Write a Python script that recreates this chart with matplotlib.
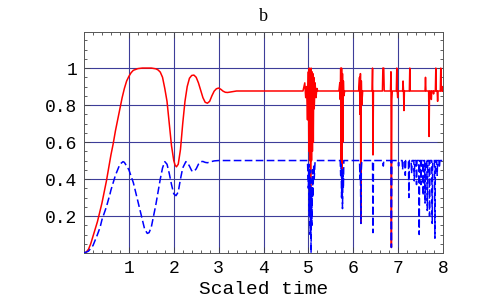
import matplotlib
matplotlib.use("Agg")
import matplotlib.pyplot as plt
from matplotlib.ticker import MultipleLocator, FixedLocator

# red (solid) curve: smooth start then flat with bursts
red_t = [0, 0.05, 0.1, 0.15, 0.2, 0.25, 0.3, 0.35, 0.4, 0.45, 0.5, 0.55, 0.6, 0.65,
         0.7, 0.75, 0.8, 0.85, 0.9, 0.95, 1.0, 1.05, 1.1, 1.2, 1.3, 1.4, 1.5, 1.6,
         1.65, 1.7, 1.75, 1.8, 1.85, 1.9, 1.95, 2.0, 2.03, 2.06, 2.1, 2.15, 2.2,
         2.25, 2.3, 2.35, 2.4, 2.45, 2.5, 2.55, 2.6, 2.65, 2.7, 2.75, 2.8, 2.85,
         2.9, 2.95, 3.0, 3.05, 3.1, 3.15, 3.2, 3.3, 3.4,
         4.88, 4.92, 4.94, 4.96, 4.98, 5.0, 5.01, 5.02, 5.03, 5.04, 5.05, 5.06,
         5.07, 5.08, 5.09, 5.1, 5.11, 5.12, 5.13, 5.15, 5.17, 5.19, 5.21,
         5.68, 5.7, 5.71, 5.72, 5.73, 5.74, 5.75, 5.76, 5.77, 5.78, 5.79, 5.81,
         6.12, 6.14, 6.15, 6.16, 6.17, 6.18, 6.19, 6.21,
         6.42, 6.43, 6.44, 6.45,
         6.65, 6.66, 6.68, 6.69,
         6.83, 6.84, 6.85, 6.86, 6.87,
         6.96, 6.97, 6.98, 6.99, 7.0,
         7.1, 7.11, 7.12, 7.13, 7.14,
         7.25, 7.26, 7.27,
         7.6, 7.61, 7.62, 7.68, 7.69, 7.7, 7.73, 7.74, 7.75, 7.78, 7.79, 7.8,
         7.83, 7.84, 7.85, 7.87, 7.88, 7.89, 7.94, 7.95, 7.96, 7.98, 7.99, 8.0]
red_v = [0, 0.005, 0.02, 0.05, 0.09, 0.13, 0.17, 0.22, 0.27, 0.33, 0.39, 0.46, 0.53, 0.59,
         0.66, 0.72, 0.78, 0.84, 0.89, 0.93, 0.955, 0.975, 0.988, 0.997, 1.0, 1.0, 1.0, 0.996,
         0.99, 0.978, 0.95, 0.89, 0.82, 0.70, 0.58, 0.50, 0.475, 0.466, 0.48, 0.56, 0.70,
         0.82, 0.90, 0.945, 0.96, 0.962, 0.95, 0.92, 0.88, 0.84, 0.815, 0.81, 0.82, 0.85,
         0.875, 0.888, 0.892, 0.885, 0.875, 0.869, 0.868, 0.872, 0.876,
         0.876, 0.92, 0.84, 0.90, 0.72, 0.98, 0.55, 1.0, 0.5, 0.99, 0.3, 1.0,
         0.5, 0.98, 0.55, 0.97, 0.6, 0.95, 0.78, 0.92, 0.84, 0.89, 0.876,
         0.876, 0.92, 0.83, 1.0, 0.5, 1.0, 0.38, 0.97, 0.6, 0.93, 0.85, 0.876,
         0.876, 0.95, 0.75, 0.97, 0.16, 0.93, 0.8, 0.876,
         0.876, 1.0, 0.53, 0.876,
         0.876, 1.0, 1.0, 0.876,
         0.876, 0.98, 0.03, 0.83, 0.876,
         0.876, 1.0, 0.876, 0.84, 0.876,
         0.876, 0.93, 0.876, 0.77, 0.876,
         0.876, 1.0, 0.876,
         0.876, 0.95, 0.876, 0.876, 0.63, 0.876, 0.876, 0.83, 0.876, 0.876, 0.86, 0.876,
         0.876, 1.0, 0.876, 0.876, 0.82, 0.876, 0.876, 1.0, 0.876, 0.876, 0.9, 0.876]

# blue (dashed) curve
blue_t = [0, 0.1, 0.2, 0.3, 0.36, 0.4, 0.5, 0.58, 0.6, 0.7, 0.8, 0.87, 0.9, 1.0, 1.1,
          1.2, 1.3, 1.35, 1.41, 1.45, 1.5, 1.6, 1.7, 1.75, 1.8, 1.85, 1.9, 1.95, 2.0,
          2.05, 2.1, 2.15, 2.2, 2.27, 2.3, 2.35, 2.4, 2.45, 2.5, 2.55, 2.6, 2.65, 2.7,
          2.75, 2.8, 2.9, 3.0,
          4.98, 5.0, 5.01, 5.02, 5.03, 5.04, 5.05, 5.06, 5.07, 5.08, 5.09, 5.1, 5.12, 5.13, 5.15,
          5.71, 5.72, 5.73, 5.74, 5.75, 5.76, 5.77, 5.78, 5.79,
          6.14, 6.15, 6.16, 6.17, 6.18, 6.19,
          6.43, 6.44, 6.45,
          6.66, 6.67, 6.68,
          6.84, 6.85, 6.86,
          7.0, 7.01, 7.02, 7.09, 7.1, 7.11, 7.15, 7.16, 7.17, 7.23, 7.24, 7.25,
          7.29, 7.3, 7.31, 7.35, 7.36, 7.37, 7.4, 7.41, 7.42, 7.46, 7.47, 7.48,
          7.5, 7.51, 7.52, 7.55, 7.56, 7.57, 7.59, 7.6, 7.61, 7.64, 7.65, 7.66,
          7.69, 7.7, 7.71, 7.75, 7.76, 7.77, 7.81, 7.82, 7.83, 7.86, 7.87, 7.88,
          7.91, 7.92, 7.93, 8.0]
blue_v = [0, 0.01, 0.04, 0.10, 0.14, 0.18, 0.25, 0.32, 0.34, 0.42, 0.48, 0.494, 0.49, 0.45, 0.38,
          0.28, 0.18, 0.13, 0.106, 0.11, 0.14, 0.26, 0.40, 0.46, 0.494, 0.48, 0.43, 0.37, 0.32,
          0.31, 0.33, 0.40, 0.46, 0.494, 0.49, 0.47, 0.445, 0.44, 0.455, 0.48, 0.494, 0.495, 0.49,
          0.488, 0.492, 0.498, 0.5,
          0.5, 0.35, 0.48, 0.2, 0.45, 0.1, 0.4, 0.0, 0.35, 0.15, 0.45, 0.3, 0.48, 0.4, 0.5,
          0.5, 0.42, 0.48, 0.3, 0.45, 0.24, 0.42, 0.35, 0.5,
          0.5, 0.4, 0.45, 0.16, 0.45, 0.5,
          0.5, 0.11, 0.5,
          0.5, 0.47, 0.5,
          0.5, 0.03, 0.5,
          0.5, 0.47, 0.5, 0.5, 0.45, 0.5, 0.5, 0.42, 0.5, 0.5, 0.30, 0.5,
          0.5, 0.43, 0.5, 0.5, 0.39, 0.5, 0.5, 0.37, 0.5, 0.5, 0.10, 0.5,
          0.5, 0.37, 0.5, 0.5, 0.31, 0.5, 0.5, 0.27, 0.5, 0.5, 0.23, 0.5,
          0.5, 0.20, 0.5, 0.5, 0.16, 0.5, 0.5, 0.08, 0.5, 0.5, 0.42, 0.5,
          0.5, 0.46, 0.5, 0.5]

x_ticks = [1, 2, 3, 4, 5, 6, 7, 8]
y_ticks = [0.2, 0.4, 0.6, 0.8, 1.0]
y_labels = ["0.2", "0.4", "0.6", "0.8", "1"]

fig = plt.figure(figsize=(4.91, 3.04), dpi=100)
ax = fig.add_axes([84 / 491, 1 - 253 / 304, (443 - 84) / 491, (253 - 32) / 304])

grid_c = "#3d3d99"
for x in x_ticks[:-1]:
    ax.axvline(x, color=grid_c, lw=0.8, zorder=1)
for y in y_ticks:
    ax.axhline(y, color=grid_c, lw=0.8, zorder=1)

ax.plot(blue_t, blue_v, color="#0000ff", lw=1.1, dashes=(5, 2.2), zorder=3)
ax.plot(red_t, red_v, color="#ff0000", lw=1.1, zorder=2)

ax.set_xlim(0, 8)
ax.set_ylim(0, 1.195)

ax.xaxis.set_major_locator(FixedLocator(x_ticks))
ax.xaxis.set_minor_locator(MultipleLocator(0.2))
ax.yaxis.set_major_locator(FixedLocator(y_ticks))
ax.yaxis.set_minor_locator(MultipleLocator(0.05))
ax.set_yticklabels(y_labels)

mono = "Liberation Mono"
ax.tick_params(which="both", direction="in", top=True, right=True,
               color="#444444", width=0.6)
ax.tick_params(which="major", length=4, labelsize=13, pad=5)
ax.tick_params(which="minor", length=2.2)
for lab in ax.get_xticklabels() + ax.get_yticklabels():
    lab.set_family(mono)

for s in ax.spines.values():
    s.set_color("#555555")
    s.set_linewidth(0.7)

ax.set_xlabel("Scaled time", family=mono, fontsize=14, labelpad=3)
ax.set_title("b", family="Liberation Serif", fontsize=13, pad=8)

fig.savefig("out.png", dpi=100)
